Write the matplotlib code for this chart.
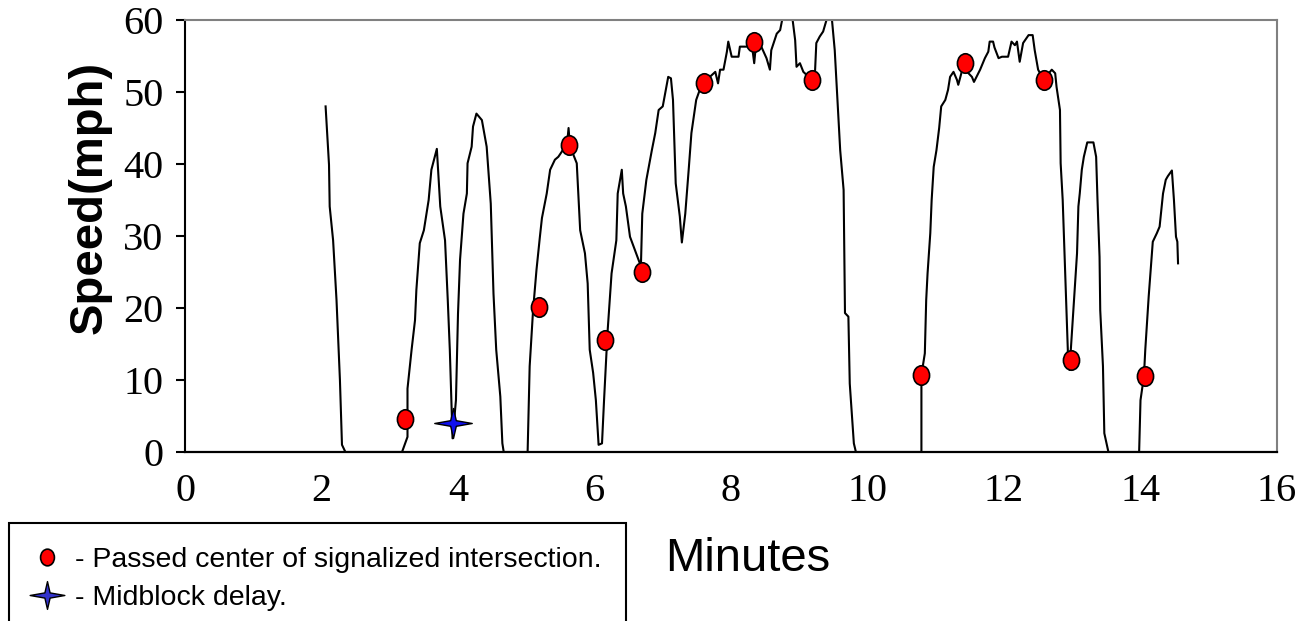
import numpy as np
import matplotlib
matplotlib.use("Agg")
import matplotlib.pyplot as plt
from matplotlib.path import Path
from matplotlib.lines import Line2D

# speed trace (minutes, mph)
minutes = [2.06, 2.11, 2.12, 2.17, 2.22, 2.27, 2.30, 2.35,
	3.18, 3.26, 3.26, 3.32, 3.37, 3.39, 3.44, 3.50, 3.57, 3.61, 3.69, 3.74, 3.81, 3.85, 3.88, 3.92,
	3.97, 4.00, 4.03, 4.08, 4.13, 4.14, 4.20, 4.22, 4.27, 4.35, 4.42, 4.48, 4.52, 4.56, 4.62, 4.65, 4.67,
	5.02, 5.05, 5.10, 5.15, 5.20, 5.23, 5.30, 5.35, 5.42, 5.47, 5.52, 5.60, 5.62, 5.64, 5.74, 5.79,
	5.86, 5.90, 5.93, 5.98, 6.02, 6.06, 6.11, 6.14, 6.19, 6.25, 6.32, 6.34, 6.40, 6.42, 6.46, 6.52,
	6.63, 6.68, 6.70, 6.76, 6.84, 6.89, 6.94, 7.00, 7.08, 7.12, 7.15, 7.19, 7.25, 7.28, 7.33, 7.38,
	7.42, 7.49, 7.55, 7.61, 7.69, 7.77, 7.81, 7.84, 7.89, 7.94, 7.96, 8.01, 8.11, 8.13, 8.23, 8.30,
	8.34, 8.36, 8.42, 8.52, 8.57, 8.59, 8.67, 8.72, 8.77, 8.89, 8.94, 8.96, 9.01, 9.06, 9.15, 9.23,
	9.25, 9.30, 9.35, 9.43, 9.47, 9.52, 9.60, 9.65, 9.67, 9.72, 9.74, 9.80, 9.83,
	10.79, 10.79, 10.84, 10.86, 10.88, 10.92, 10.94, 10.97, 11.01, 11.05, 11.08, 11.14, 11.18, 11.21,
	11.26, 11.31, 11.33, 11.40, 11.48, 11.53, 11.56, 11.65, 11.72, 11.77, 11.79, 11.84, 11.86, 11.92,
	11.97, 12.06, 12.11, 12.16, 12.19, 12.23, 12.28, 12.36, 12.42, 12.45, 12.50, 12.58, 12.70, 12.75,
	12.77, 12.82, 12.83, 12.86, 12.89, 12.94, 12.96, 13.02, 13.07, 13.09, 13.11, 13.14, 13.17, 13.22,
	13.31, 13.35, 13.37, 13.40, 13.41, 13.45, 13.47, 13.53,
	13.98, 14.00, 14.05, 14.07, 14.12, 14.15, 14.18, 14.24, 14.28, 14.33, 14.37, 14.40, 14.46, 14.49,
	14.52, 14.54, 14.55]
speed = [48.0, 39.9, 34.1, 29.4, 21.1, 10.0, 1.0, 0,
	0, 2.1, 8.8, 14.2, 18.3, 22.5, 29.0, 30.8, 35.0, 39.2, 42.1, 34.1, 29.4, 21.1, 14.2, 1.9,
	7.2, 19.2, 26.7, 33.1, 35.9, 40.1, 42.4, 45.2, 47.0, 46.1, 42.4, 34.5, 22.0, 14.2, 7.7, 1.2, 0,
	0, 11.9, 19.7, 25.3, 29.9, 32.5, 35.9, 39.2, 40.6, 41.0, 41.7, 43.0, 45.0, 42.5, 40.1, 30.8,
	27.6, 23.4, 14.2, 11.0, 7.2, 1.0, 1.2, 7.2, 16.5, 24.8, 29.4, 35.9, 39.2, 35.9, 34.1, 29.9,
	27.1, 25.8, 33.1, 37.8, 41.9, 44.3, 47.5, 48.0, 52.1, 51.9, 48.9, 37.3, 32.7, 29.1, 33.1, 39.2,
	44.3, 48.9, 50.5, 51.5, 52.1, 52.8, 51.2, 53.1, 53.1, 55.6, 57.0, 54.9, 54.9, 56.3, 56.3, 57.0,
	54.0, 56.0, 56.8, 54.7, 53.1, 55.8, 58.1, 58.6, 61.0, 61.0, 57.2, 53.5, 54.0, 52.8, 52.0, 52.6,
	56.8, 57.7, 58.4, 61.0, 61.0, 55.8, 41.9, 36.4, 19.3, 18.8, 9.5, 1.2, 0,
	0, 10.7, 13.7, 21.1, 24.8, 30.4, 35.0, 39.6, 41.9, 45.0, 48.0, 48.9, 50.3, 52.1,
	52.8, 51.7, 51.0, 53.5, 52.6, 52.1, 51.4, 53.1, 54.7, 55.6, 57.0, 57.0, 56.2, 54.7,
	54.9, 54.9, 57.0, 56.5, 57.0, 54.2, 56.8, 57.9, 57.9, 55.8, 53.1, 51.7, 53.1, 52.6,
	50.7, 47.5, 40.1, 35.0, 26.7, 12.8, 11.4, 20.2, 27.6, 34.1, 35.9, 39.2, 41.0, 43.0,
	43.0, 41.0, 35.0, 27.1, 19.7, 11.9, 2.6, 0,
	0, 7.2, 10.5, 14.2, 21.6, 25.3, 29.2, 30.4, 31.3, 35.9, 37.8, 38.3, 39.1, 35.0,
	29.9, 29.2, 26.2]

# signalized intersections passed
sigMinutes = [3.23, 5.19, 5.62, 6.15, 6.69, 7.61, 8.34, 9.19, 10.78, 11.43, 12.58, 12.98, 14.07]
sigSpeed = [4.6, 20.1, 42.7, 15.6, 25.0, 51.3, 56.9, 51.6, 10.7, 54.0, 51.7, 12.8, 10.5]

# midblock delay
midMinutes = [3.93]
midSpeed = [4.0]

xTicks = [0, 2, 4, 6, 8, 10, 12, 14, 16]
yTicks = [0, 10, 20, 30, 40, 50, 60]

# slightly tall ellipse for the intersection dots
circ = Path.unit_circle()
ellipse = Path(circ.vertices * np.array([0.83, 1.0]), circ.codes)
# four point star, long horizontal arms
star = Path([(1, 0), (0.15, 0.15), (0, 0.8), (-0.15, 0.15), (-1, 0), (-0.15, -0.15),
	(0, -0.8), (0.15, -0.15), (1, 0)],
	[Path.MOVETO] + [Path.LINETO] * 7 + [Path.CLOSEPOLY])

fig = plt.figure(figsize=(13.1, 6.21), dpi=100)
ax = fig.add_axes([185/1310, 1 - 452/621, 1092/1310, 432/621])

ax.plot(minutes, speed, color="black", lw=1.5, zorder=2)
ax.plot(sigMinutes, sigSpeed, ls="none", marker=ellipse, ms=14, mfc="#ff0000", mec="black", mew=1.2, zorder=3)
ax.plot(midMinutes, midSpeed, ls="none", marker=star, ms=27, mfc="#1010ee", mec="black", mew=1.0, zorder=3)

ax.set_xlim(0, 16)
ax.set_ylim(0, 60)
ax.set_xticks(xTicks)
ax.set_yticks(yTicks)
ax.tick_params(axis="x", length=0, pad=15, labelsize=29)
ax.tick_params(axis="y", direction="out", length=6.5, width=1.5, pad=9, labelsize=29)
for lab in ax.get_xticklabels() + ax.get_yticklabels():
	lab.set_fontfamily("Liberation Serif")

ax.spines["left"].set_color("black")
ax.spines["left"].set_linewidth(1.5)
ax.spines["bottom"].set_color("black")
ax.spines["bottom"].set_linewidth(1.6)
for s in ["top", "right"]:
	ax.spines[s].set_color("#808080")
	ax.spines[s].set_linewidth(1.5)

fig.text(90/1310, 1 - 197/621, "Speed(mph)", rotation=90, ha="center", va="center",
	fontsize=34, fontweight="bold", family="Liberation Sans")
fig.text(748/1310, 1 - 571/621, "Minutes", ha="center", va="baseline",
	fontsize=34, family="Liberation Sans")

handles = [
	Line2D([], [], ls="none", marker=ellipse, ms=12, mfc="#ff0000", mec="black", mew=1.2),
	Line2D([], [], ls="none", marker=star, ms=25, mfc="#3333cc", mec="black", mew=1.0),
]
labels = ["- Passed center of signalized intersection.", "- Midblock delay."]
leg = fig.legend(handles, labels, loc="upper left", bbox_to_anchor=(9/1310, 1 - 523/621),
	prop={"family": "Liberation Sans", "size": 20.5}, frameon=True, fancybox=False,
	edgecolor="black", framealpha=1, handlelength=0.95, handletextpad=0.52,
	labelspacing=0.4, borderpad=0.85, borderaxespad=0)
leg.get_frame().set_linewidth(1.5)

fig.savefig("out.png", dpi=100)
